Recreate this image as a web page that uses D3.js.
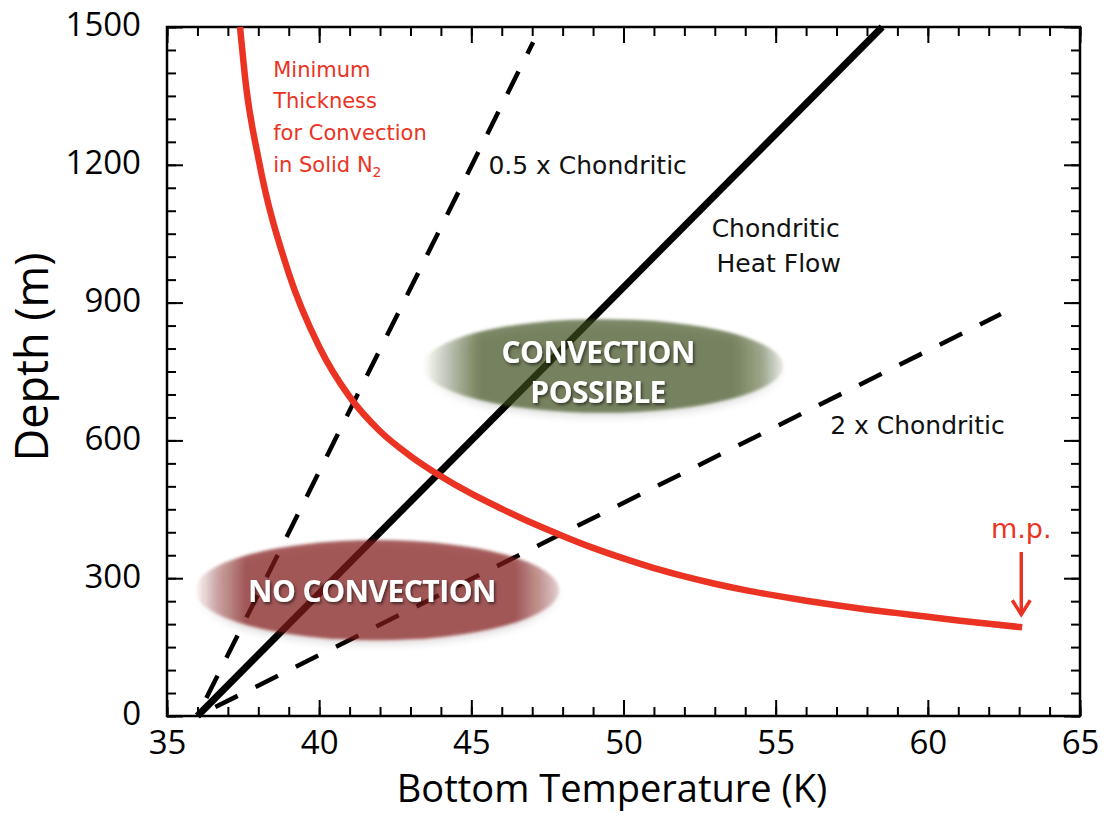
<!DOCTYPE html>
<html>
<head>
<meta charset="utf-8">
<script src="https://cdn.jsdelivr.net/npm/d3@7"></script>
<style>
  body { margin: 0; background: #fff; }
  svg { display: block; }
</style>
</head>
<body>
<svg id="chart"></svg>
<script>
// minimum thickness for convection in solid N2 (red curve)
const minThickT = [37.4, 37.6, 38, 39, 40, 41, 42, 43, 44, 45, 46, 47, 48, 49, 50, 51, 52, 53, 54, 55, 56, 57, 58, 59, 60, 61, 62, 63.1];
const minThickD = [1500, 1370, 1215, 964, 804, 695, 620, 566, 522, 484, 451, 420, 392, 366, 343, 322, 304, 288, 274, 262, 251, 241, 232, 224, 216, 208, 201, 193];

// conductive profiles for different heat flows
const chondT = [36, 58.5];
const chondD = [0, 1500];
const halfT = [36, 47.03];
const halfD = [0, 1467];
const doubleT = [36, 62.4];
const doubleD = [0, 875];

const xTicks = [35, 40, 45, 50, 55, 60, 65];
const yTicks = [0, 300, 600, 900, 1200, 1500];
const xMinor = d3.range(35, 66, 1);
const yMinor = d3.range(0, 1501, 50);

const width = 1106;
const height = 824;
const plot = {left: 167, right: 1080, top: 27, bottom: 716};
const red = "#ea3323";

const svg = d3.select("#chart")
  .attr("width", width)
  .attr("height", height);

const x = d3.scaleLinear().domain([35, 65]).range([plot.left, plot.right]);
const y = d3.scaleLinear().domain([0, 1500]).range([plot.bottom, plot.top]);

const defs = svg.append("defs");

const soft = defs.append("filter").attr("id", "soft")
  .attr("x", "-10%").attr("y", "-30%").attr("width", "120%").attr("height", "160%");
soft.append("feGaussianBlur").attr("in", "SourceAlpha").attr("stdDeviation", 4).attr("result", "b");
soft.append("feOffset").attr("in", "b").attr("dy", 4).attr("result", "o");
soft.append("feComponentTransfer").attr("in", "o").attr("result", "s")
  .append("feFuncA").attr("type", "linear").attr("slope", 0.2);
soft.append("feGaussianBlur").attr("in", "SourceGraphic").attr("stdDeviation", 1.5).attr("result", "g");
const sm = soft.append("feMerge");
sm.append("feMergeNode").attr("in", "s");
sm.append("feMergeNode").attr("in", "g");

const txtShadow = defs.append("filter").attr("id", "txtShadow")
  .attr("x", "-10%").attr("y", "-30%").attr("width", "120%").attr("height", "160%");
txtShadow.append("feDropShadow").attr("dx", 1.5).attr("dy", 2).attr("stdDeviation", 1.5)
  .attr("flood-color", "#000").attr("flood-opacity", 0.55);

function fadeGradient(id, color, stops) {
  const g = defs.append("linearGradient").attr("id", id)
    .attr("x1", 0).attr("x2", 1).attr("y1", 0).attr("y2", 0);
  stops.forEach(s => g.append("stop").attr("offset", s[0])
    .attr("stop-color", color).attr("stop-opacity", s[1]));
}
fadeGradient("greenFade", "rgb(60,78,25)", [[0, 0], [0.06, 0.25], [0.16, 0.66], [0.86, 0.66], [0.94, 0.45], [1, 0.1]]);
fadeGradient("brownFade", "rgb(131,30,28)", [[0, 0], [0.05, 0.3], [0.14, 0.7], [0.88, 0.7], [1, 0.2]]);

// axes: ticks on all four sides, pointing inward
function styleAxis(g) {
  g.select(".domain").remove();
  g.selectAll(".tick line").attr("stroke", "#000").attr("stroke-width", 2);
  g.attr("font-family", "'Open Sans', sans-serif").attr("font-size", 33);
  g.selectAll(".tick text").attr("fill", "#000");
}

svg.append("g").attr("transform", `translate(0,${plot.bottom})`)
  .call(d3.axisBottom(x).tickValues(xMinor).tickSize(-9).tickFormat(""))
  .call(styleAxis);
svg.append("g").attr("transform", `translate(0,${plot.bottom})`)
  .call(d3.axisBottom(x).tickValues(xTicks).tickSize(-16).tickPadding(15).tickFormat(d3.format("d")))
  .call(styleAxis);
svg.append("g").attr("transform", `translate(0,${plot.top})`)
  .call(d3.axisTop(x).tickValues(xMinor).tickSize(-9).tickFormat(""))
  .call(styleAxis);
svg.append("g").attr("transform", `translate(0,${plot.top})`)
  .call(d3.axisTop(x).tickValues(xTicks).tickSize(-16).tickFormat(""))
  .call(styleAxis);

svg.append("g").attr("transform", `translate(${plot.left},0)`)
  .call(d3.axisLeft(y).tickValues(yMinor).tickSize(-9).tickFormat(""))
  .call(styleAxis);
svg.append("g").attr("transform", `translate(${plot.left},0)`)
  .call(d3.axisLeft(y).tickValues(yTicks).tickSize(-16).tickPadding(26).tickFormat(d3.format("d")))
  .call(styleAxis)
  .call(g => g.selectAll(".tick text").attr("dy", "0.27em"));
svg.append("g").attr("transform", `translate(${plot.right},0)`)
  .call(d3.axisRight(y).tickValues(yMinor).tickSize(-9).tickFormat(""))
  .call(styleAxis);
svg.append("g").attr("transform", `translate(${plot.right},0)`)
  .call(d3.axisRight(y).tickValues(yTicks).tickSize(-16).tickFormat(""))
  .call(styleAxis);

svg.append("rect")
  .attr("x", plot.left).attr("y", plot.top)
  .attr("width", plot.right - plot.left).attr("height", plot.bottom - plot.top)
  .attr("fill", "none").attr("stroke", "#000").attr("stroke-width", 2.5);

// axis titles
svg.append("text")
  .attr("x", 612).attr("y", 802)
  .attr("text-anchor", "middle")
  .attr("font-family", "'Open Sans', sans-serif").attr("font-size", 38)
  .text("Bottom Temperature (K)");

svg.append("text")
  .attr("transform", "translate(48,357) rotate(-90)")
  .attr("text-anchor", "middle")
  .attr("font-family", "'Open Sans', sans-serif").attr("font-size", 45)
  .text("Depth (m)");

// curves
const line = d3.line().x(d => x(d[0])).y(d => y(d[1]));

svg.append("path")
  .datum(d3.zip(halfT, halfD))
  .attr("d", line)
  .attr("fill", "none").attr("stroke", "#000").attr("stroke-width", 4.5)
  .attr("stroke-dasharray", "25 20").attr("stroke-dashoffset", 25);

svg.append("path")
  .datum(d3.zip(doubleT, doubleD))
  .attr("d", line)
  .attr("fill", "none").attr("stroke", "#000").attr("stroke-width", 4.5)
  .attr("stroke-dasharray", "25 20").attr("stroke-dashoffset", 25);

svg.append("path")
  .datum(d3.zip(chondT, chondD))
  .attr("d", line)
  .attr("fill", "none").attr("stroke", "#000").attr("stroke-width", 7);

svg.append("path")
  .datum(d3.zip(minThickT, minThickD))
  .attr("d", d3.line().curve(d3.curveMonotoneX).x(d => x(d[0])).y(d => y(d[1])))
  .attr("fill", "none").attr("stroke", red).attr("stroke-width", 6.5)
  .attr("stroke-linejoin", "round");

// region ellipses
function region(cT, cD, rT, rD, fill, lines, baseD, lineGap) {
  const cx = x(cT), cy = y(cD);
  svg.append("ellipse")
    .attr("cx", cx).attr("cy", cy)
    .attr("rx", x(cT + rT) - cx).attr("ry", y(0) - y(rD))
    .attr("fill", `url(#${fill})`)
    .attr("filter", "url(#soft)");
  lines.forEach((t, i) => {
    svg.append("text")
      .attr("x", cx - 5).attr("y", y(baseD) + i * lineGap)
      .attr("text-anchor", "middle")
      .attr("font-family", "'Open Sans', sans-serif")
      .attr("font-weight", 700).attr("font-size", 30)
      .attr("letter-spacing", -0.5)
      .attr("fill", "#fff")
      .attr("filter", "url(#txtShadow)")
      .text(t);
  });
}
region(49.33, 762, 5.92, 102, "greenFade", ["CONVECTION", "POSSIBLE"], 768, 40);
region(41.9, 274, 5.98, 109, "brownFade", ["NO CONVECTION"], 248, 0);

// annotations
const redLabel = svg.append("text")
  .attr("x", x(38.49)).attr("y", y(1392))
  .attr("font-family", "'DejaVu Sans', sans-serif").attr("font-size", 21)
  .attr("fill", red);
["Minimum", "Thickness", "for Convection", "in Solid N"].forEach((t, i) => {
  redLabel.append("tspan").attr("x", x(38.49)).attr("dy", i === 0 ? 0 : 31.7).text(t);
});
redLabel.append("tspan").attr("font-size", 14).attr("dy", 5).text("2");

function label(t, T, D, anchor) {
  svg.append("text")
    .attr("x", x(T)).attr("y", y(D))
    .attr("text-anchor", anchor)
    .attr("font-family", "'DejaVu Sans', sans-serif").attr("font-size", 25)
    .attr("fill", "#111")
    .text(t);
}
label("0.5 x Chondritic", 45.56, 1181, "start");
label("Chondritic", 55.0, 1043, "middle");
label("Heat Flow", 55.1, 967, "middle");
label("2 x Chondritic", 56.79, 614, "start");

// melting point marker
const meltT = 63.07;
svg.append("text")
  .attr("x", x(meltT)).attr("y", y(388))
  .attr("text-anchor", "middle")
  .attr("font-family", "'DejaVu Sans', sans-serif").attr("font-size", 27)
  .attr("fill", red)
  .text("m.p.");
svg.append("line")
  .attr("x1", x(meltT)).attr("x2", x(meltT))
  .attr("y1", y(357)).attr("y2", y(222))
  .attr("stroke", red).attr("stroke-width", 3.5);
svg.append("path")
  .attr("d", `M${x(meltT) - 9},${y(252)}L${x(meltT)},${y(221)}L${x(meltT) + 9},${y(252)}`)
  .attr("fill", "none").attr("stroke", red).attr("stroke-width", 3.5)
  .attr("stroke-linejoin", "miter");
</script>
</body>
</html>
